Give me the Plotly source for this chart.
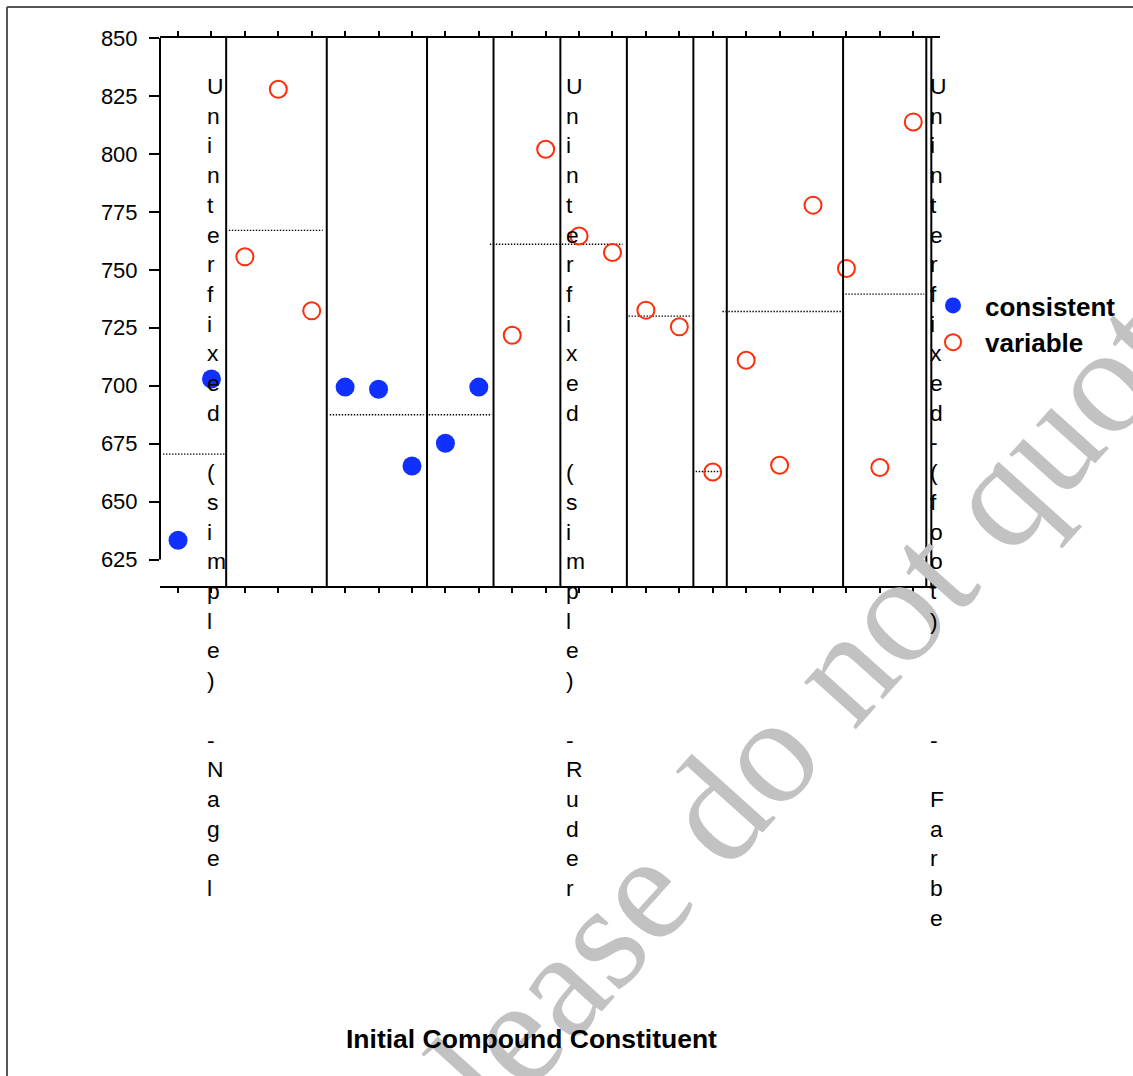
import plotly.graph_objects as go

# ---- data -----------------------------------------------------------------
# one measurement per sample, in order along the x axis
sample_pos = list(range(23))
sample_value = [633.3, 702.9, 755.6, 827.9, 732.3, 699.4, 698.5, 665.4, 675.2,
                699.4, 721.8, 802.0, 764.6, 757.5, 732.6, 725.4, 662.8, 711.0,
                665.7, 777.9, 750.6, 664.7, 813.8]
sample_class = ["consistent", "consistent", "variable", "variable", "variable",
                "consistent", "consistent", "consistent", "consistent",
                "consistent", "variable", "variable", "variable", "variable",
                "variable", "variable", "variable", "variable", "variable",
                "variable", "variable", "variable", "variable"]

# group means (dotted lines) and the x extent they cover
group_mean = [670.5, 767.0, 687.5, 687.5, 761.0, 730.0, 663.0, 732.0, 739.5]
group_from = [-0.45, 1.52, 4.54, 7.50, 9.33, 13.48, 15.49, 16.29, 19.88]
group_to = [1.43, 4.33, 7.35, 9.39, 13.30, 15.37, 16.26, 19.94, 22.33]

# nesting boundaries between groups
group_breaks = [1.44, 4.45, 7.45, 9.44, 11.44, 13.43, 15.42, 16.42, 19.90,
                22.39, 22.54]

# vertical category labels
category_labels = ["Uninterfixed (simple) -Nagel",
                   "Uninterfixed (simple) -Ruder",
                   "Uninterfixed-(foot)   - Farbe"]
category_label_x = [0.80, 11.55, 22.45]

y_ticks = [625, 650, 675, 700, 725, 750, 775, 800, 825, 850]
x_title = "Initial Compound Constituent"
watermark = "Please do not quote"

# ---- layout geometry --------------------------------------------------------
W, H = 1133, 1076
L, R, T, B = 160, 940, 38, 586
X_RANGE = [-0.54, 22.80]
Y_RANGE = [613.6, 850.0]


def paper_x(px):
    return (px - L) / (R - L)


def paper_y(py):
    return (B - py) / (B - T)


SANS = "Liberation Sans, Arial, Helvetica, sans-serif"
BLUE = "#0f30ff"
RED = "#ff2d0a"

fig = go.Figure()

# dotted group-mean lines
for m, a, b in zip(group_mean, group_from, group_to):
    fig.add_trace(go.Scatter(
        x=[a, b], y=[m, m], mode="lines", showlegend=False, hoverinfo="skip",
        line=dict(color="black", width=1.4, dash="1.4px,1.6px")))

# sample points
for cls, style in [("consistent", dict(symbol="circle", size=19, color=BLUE,
                                         line=dict(width=0))),
                   ("variable", dict(symbol="circle-open", size=17, color=RED,
                                       line=dict(width=2, color=RED)))]:
    xs = [p for p, c in zip(sample_pos, sample_class) if c == cls]
    ys = [v for v, c in zip(sample_value, sample_class) if c == cls]
    fig.add_trace(go.Scatter(x=xs, y=ys, mode="markers", name=cls,
                             marker=style))

shapes = []
for gx in group_breaks:
    shapes.append(dict(type="line", xref="x", yref="paper", x0=gx, x1=gx,
                       y0=0, y1=1, line=dict(color="black", width=2)))
# left axis line only over the labelled range
shapes.append(dict(type="line", xref="paper", yref="y", x0=0, x1=0,
                   y0=y_ticks[0], y1=y_ticks[-1],
                   line=dict(color="black", width=2)))
# page frame
shapes.append(dict(type="line", xref="paper", yref="paper",
                   x0=paper_x(7), x1=paper_x(W + 5), y0=paper_y(7),
                   y1=paper_y(7), line=dict(color="#555555", width=2)))
shapes.append(dict(type="line", xref="paper", yref="paper",
                   x0=paper_x(7), x1=paper_x(7), y0=paper_y(7),
                   y1=paper_y(H + 5), line=dict(color="#555555", width=2)))

annotations = []
# watermark goes first so every other text sits on top of it
annotations.append(dict(
    text=watermark, xref="paper", yref="paper", x=paper_x(800),
    y=paper_y(715), xanchor="center", yanchor="middle", showarrow=False,
    textangle=-48,
    font=dict(family="Liberation Serif, Times New Roman, serif", size=152,
              color="#c2c2c2")))

for txt, lx in zip(category_labels, category_label_x):
    rows = [ch if ch != " " else "\u00a0" for ch in txt]
    annotations.append(dict(
        text="<br>".join(rows), xref="x", yref="paper", x=lx,
        y=paper_y(71), xanchor="left", yanchor="top", align="left",
        showarrow=False, font=dict(family=SANS, size=22.85, color="black")))

annotations.append(dict(
    text=x_title, xref="paper", yref="paper", x=paper_x(531),
    y=paper_y(1039), xanchor="center", yanchor="middle", showarrow=False,
    font=dict(family=SANS, size=26.5, color="black", weight="bold")))

fig.update_layout(
    width=W, height=H,
    margin=dict(l=L, r=W - R, t=T, b=H - B, pad=0),
    paper_bgcolor="white", plot_bgcolor="white",
    showlegend=True,
    legend=dict(x=paper_x(921), y=paper_y(282), xanchor="left",
                yanchor="top", bgcolor="rgba(0,0,0,0)",
                font=dict(family=SANS, size=26, color="black", weight="bold"),
                itemwidth=54, tracegroupgap=0),
    shapes=shapes,
    annotations=annotations,
    font=dict(family=SANS, color="black"),
)

fig.update_xaxes(
    range=X_RANGE, showgrid=False, zeroline=False,
    showline=True, linecolor="black", linewidth=2, mirror="allticks",
    ticks="outside", ticklen=5, tickwidth=1.5, tickcolor="black",
    tickvals=sample_pos, showticklabels=False)

fig.update_yaxes(
    range=Y_RANGE, showgrid=False, zeroline=False, showline=False,
    ticks="outside", ticklen=10, tickwidth=2, tickcolor="black",
    tickvals=y_ticks, ticktext=[str(v) for v in y_ticks],
    ticklabelstandoff=7,
    tickfont=dict(family=SANS, size=22, color="black"))

fig.write_html("out.html")
